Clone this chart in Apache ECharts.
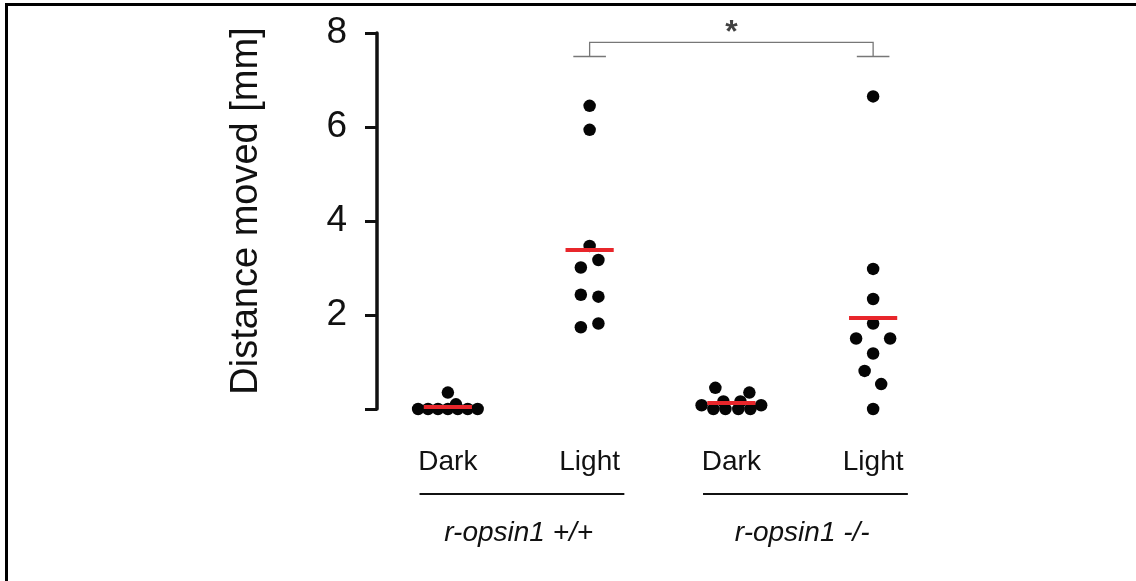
<!DOCTYPE html>
<html>
<head>
<meta charset="UTF-8">
<title>Distance moved</title>
<script src="https://cdn.jsdelivr.net/npm/echarts@6/dist/echarts.min.js"></script>
<style>
  html, body, #main { margin: 0; padding: 0; width: 1136px; height: 581px; background: #fff; }
</style>
</head>
<body>
<div id="main"></div>
<script>
  const conditions = ['Dark', 'Light', 'Dark', 'Light'];
  const genotypes = ['r-opsin1 +/+', 'r-opsin1 -/-'];
  const yTicks = [0, 2, 4, 6, 8];

  // distance moved [mm], one array per group
  const wtDark = [0, 0, 0, 0, 0, 0, 0, 0.1, 0.35];
  const wtLight = [6.45, 5.94, 3.47, 3.17, 3.01, 2.43, 2.39, 1.74, 1.82];
  const koDark = [0, 0, 0, 0, 0.08, 0.08, 0.16, 0.16, 0.35, 0.45];
  const koLight = [6.65, 2.98, 2.34, 1.82, 1.5, 1.5, 1.18, 0.81, 0.53, 0];

  // sideways spread of the dots so they don't sit on top of each other (category units)
  const wtDarkJit = [-0.21, -0.14, -0.07, 0, 0.07, 0.14, 0.21, 0.057, 0];
  const wtLightJit = [0, 0, 0, 0.062, -0.062, -0.062, 0.062, -0.062, 0.062];
  const koDarkJit = [-0.127, -0.042, 0.049, 0.134, -0.21, 0.21, -0.056, 0.064, 0.127, -0.113];
  const koLightJit = [0, 0, 0, 0, -0.12, 0.12, 0, -0.06, 0.057, 0];

  const groups = [wtDark, wtLight, koDark, koLight];
  const jitters = [wtDarkJit, wtLightJit, koDarkJit, koLightJit];

  const font = '"Liberation Sans", Arial, sans-serif';
  const chart = echarts.init(document.getElementById('main'));

  const dots = [];
  groups.forEach((vals, g) => {
    vals.forEach((v, i) => dots.push([g + 1 + jitters[g][i], v]));
  });

  // red bar = group mean
  const means = groups.map((vals, g) => {
    const m = vals.reduce((a, b) => a + b, 0) / vals.length;
    return { coords: [[g + 1 - 0.17, m], [g + 1 + 0.17, m]] };
  });

  chart.setOption({
    animation: false,
    backgroundColor: '#fff',
    grid: { left: 377, right: 192, top: 33, bottom: 172 },
    xAxis: [
      { type: 'value', min: 0.5, max: 4.5, show: false },
      {
        type: 'category', data: conditions, position: 'bottom',
        axisLine: { show: false }, axisTick: { show: false },
        axisLabel: { margin: 39, fontSize: 28, color: '#111', fontFamily: font }
      },
      {
        type: 'category', data: genotypes, position: 'bottom',
        axisLine: { show: false }, axisTick: { show: false },
        axisLabel: { margin: 110, fontSize: 28, fontStyle: 'italic', color: '#111', fontFamily: font }
      }
    ],
    yAxis: {
      type: 'value', min: yTicks[0], max: yTicks[yTicks.length - 1], interval: 2,
      name: 'Distance moved [mm]', nameLocation: 'middle', nameGap: 111,
      nameTextStyle: { fontSize: 38, color: '#111', fontFamily: font, padding: [0, 0, 0, 20] },
      axisLine: { show: true, lineStyle: { color: '#111', width: 3.5 } },
      axisTick: { show: true, length: 12, lineStyle: { color: '#111', width: 3 } },
      axisLabel: {
        margin: 30, fontSize: 37, color: '#111', fontFamily: font,
        formatter: v => (v === 0 ? '' : v)
      },
      splitLine: { show: false }
    },
    series: [
      {
        type: 'scatter', xAxisIndex: 0, data: dots, symbolSize: 12.5,
        itemStyle: { color: '#050505', opacity: 1 }, z: 2
      },
      {
        type: 'lines', coordinateSystem: 'cartesian2d', xAxisIndex: 0,
        data: means, lineStyle: { color: '#e8262b', width: 4, opacity: 1 }, z: 3
      },
      {
        type: 'lines', coordinateSystem: 'cartesian2d', xAxisIndex: 0, polyline: true, clip: false,
        data: [
          { coords: [[2, 7.5], [2, 7.8], [4, 7.8], [4, 7.5]] },
          { coords: [[1.885, 7.5], [2.115, 7.5]] },
          { coords: [[3.885, 7.5], [4.115, 7.5]] }
        ],
        lineStyle: { color: '#777', width: 1.3, opacity: 1 }, z: 3
      },
      {
        type: 'scatter', xAxisIndex: 0, clip: false, symbolSize: 0,
        data: [[3, 8.0]],
        label: {
          show: true, position: 'inside', formatter: '*',
          fontSize: 32, fontWeight: 'bold', color: '#111', fontFamily: font
        }
      }
    ]
  });

  // underline under each genotype pair + outer frame
  const px = (x, y) => chart.convertToPixel({ xAxisIndex: 0, yAxisIndex: 0 }, [x, y]);
  const lineY = 494;
  const under = [[1, 2], [3, 4]].map(([a, b]) => ({
    type: 'line',
    shape: { x1: px(a - 0.2, 0)[0], y1: lineY, x2: px(b + 0.245, 0)[0], y2: lineY },
    style: { stroke: '#111', lineWidth: 2 }
  }));
  chart.setOption({
    graphic: [
      ...under,
      {
        type: 'rect', shape: { x: 6.5, y: 4.5, width: 1300, height: 800 },
        style: { fill: null, stroke: '#000', lineWidth: 3 }
      }
    ]
  });
</script>
</body>
</html>
